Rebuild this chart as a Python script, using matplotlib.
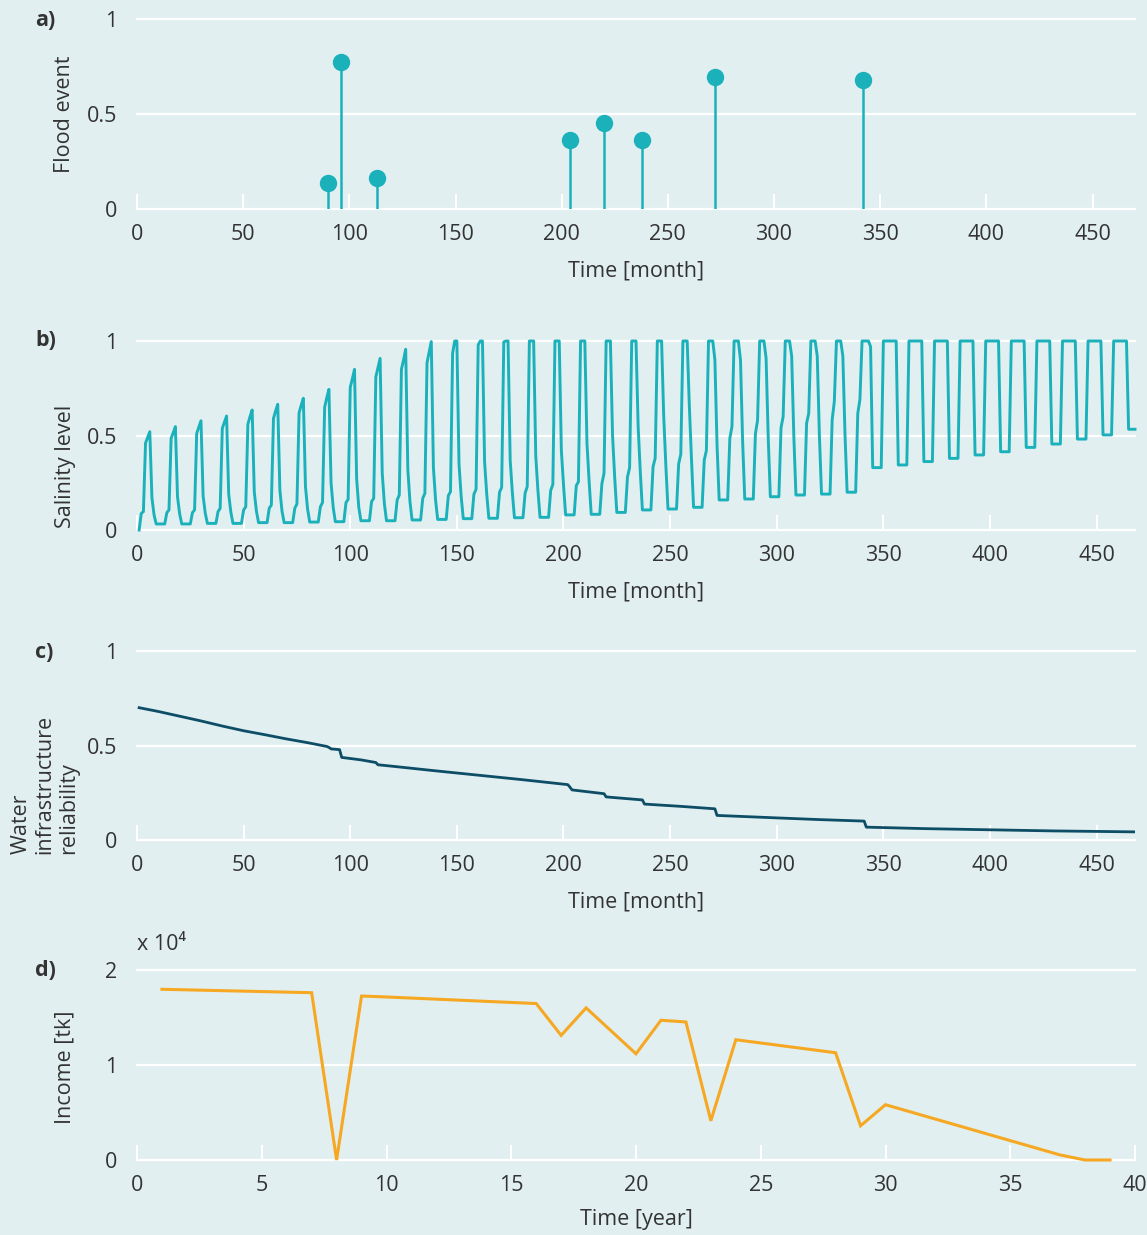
"""
Salinity / flood / income panels
"""

import numpy as np
import matplotlib
matplotlib.use('Agg')
import matplotlib.pyplot as plt

plt.rcParams['font.family'] = ['Open Sans', 'DejaVu Sans']

BG = '#e1eff1'
TEAL = '#1ab1bb'
NAVY = '#0d4d66'
ORANGE = '#f6a823'
TEXT = '#333333'
FS = 15.5

# a) flood events
flood_month = [90, 96, 113, 204, 220, 238, 272, 342]
flood_size = [0.138, 0.775, 0.165, 0.363, 0.453, 0.363, 0.695, 0.679]

# b) salinity level, one row per year (months 1..12 of each year)
salinity_rows = [
    [0.0, 0.088, 0.097, 0.46, 0.49, 0.52, 0.17, 0.08, 0.032, 0.032, 0.032, 0.032],
    [0.032, 0.092, 0.106, 0.485, 0.515, 0.547, 0.175, 0.085, 0.032, 0.032, 0.032, 0.032],
    [0.032, 0.092, 0.106, 0.511, 0.545, 0.578, 0.18, 0.09, 0.035, 0.035, 0.035, 0.035],
    [0.035, 0.097, 0.115, 0.538, 0.57, 0.603, 0.19, 0.095, 0.035, 0.035, 0.035, 0.035],
    [0.035, 0.106, 0.123, 0.56, 0.6, 0.635, 0.2, 0.1, 0.039, 0.039, 0.039, 0.039],
    [0.039, 0.115, 0.132, 0.59, 0.63, 0.665, 0.21, 0.1, 0.039, 0.039, 0.039, 0.039],
    [0.039, 0.115, 0.138, 0.62, 0.66, 0.697, 0.23, 0.11, 0.042, 0.042, 0.042, 0.042],
    [0.042, 0.123, 0.146, 0.65, 0.70, 0.744, 0.25, 0.12, 0.044, 0.044, 0.044, 0.044],
    [0.044, 0.145, 0.162, 0.755, 0.80, 0.85, 0.27, 0.12, 0.049, 0.049, 0.049, 0.049],
    [0.049, 0.15, 0.168, 0.81, 0.86, 0.908, 0.30, 0.14, 0.049, 0.049, 0.049, 0.049],
    [0.049, 0.159, 0.185, 0.85, 0.90, 0.956, 0.32, 0.15, 0.053, 0.053, 0.053, 0.053],
    [0.053, 0.168, 0.194, 0.885, 0.94, 0.997, 0.33, 0.16, 0.056, 0.056, 0.056, 0.056],
    [0.056, 0.182, 0.203, 0.935, 1.0, 1.0, 0.35, 0.18, 0.060, 0.060, 0.060, 0.060],
    [0.060, 0.19, 0.215, 0.98, 1.0, 1.0, 0.36, 0.19, 0.062, 0.062, 0.062, 0.062],
    [0.062, 0.20, 0.225, 0.995, 1.0, 1.0, 0.37, 0.20, 0.065, 0.065, 0.065, 0.065],
    [0.065, 0.195, 0.23, 1.0, 1.0, 1.0, 0.39, 0.21, 0.067, 0.067, 0.067, 0.067],
    [0.067, 0.21, 0.24, 1.0, 1.0, 1.0, 0.42, 0.24, 0.080, 0.080, 0.080, 0.080],
    [0.080, 0.235, 0.255, 1.0, 1.0, 1.0, 0.46, 0.26, 0.083, 0.083, 0.083, 0.083],
    [0.083, 0.245, 0.30, 1.0, 1.0, 1.0, 0.50, 0.28, 0.093, 0.093, 0.093, 0.093],
    [0.093, 0.28, 0.33, 1.0, 1.0, 1.0, 0.55, 0.31, 0.106, 0.106, 0.106, 0.106],
    [0.106, 0.335, 0.38, 1.0, 1.0, 1.0, 0.60, 0.34, 0.111, 0.111, 0.111, 0.111],
    [0.111, 0.35, 0.40, 1.0, 1.0, 1.0, 0.66, 0.38, 0.120, 0.120, 0.120, 0.120],
    [0.120, 0.37, 0.42, 1.0, 1.0, 1.0, 0.90, 0.45, 0.159, 0.159, 0.159, 0.159],
    [0.159, 0.485, 0.547, 1.0, 1.0, 1.0, 0.90, 0.47, 0.164, 0.164, 0.164, 0.164],
    [0.164, 0.51, 0.58, 1.0, 1.0, 1.0, 0.91, 0.49, 0.176, 0.176, 0.176, 0.176],
    [0.176, 0.54, 0.60, 1.0, 1.0, 1.0, 0.92, 0.50, 0.185, 0.185, 0.185, 0.185],
    [0.185, 0.565, 0.617, 1.0, 1.0, 1.0, 0.92, 0.50, 0.190, 0.190, 0.190, 0.190],
    [0.190, 0.585, 0.68, 1.0, 1.0, 1.0, 0.92, 0.51, 0.200, 0.200, 0.200, 0.200],
    [0.200, 0.617, 0.69, 1.0, 1.0, 1.0, 1.0, 0.97, 0.330, 0.330, 0.330, 0.330],
    [0.330, 1.0, 1.0, 1.0, 1.0, 1.0, 1.0, 1.0, 0.344, 0.344, 0.344, 0.344],
    [0.344, 1.0, 1.0, 1.0, 1.0, 1.0, 1.0, 1.0, 0.362, 0.362, 0.362, 0.362],
    [0.362, 1.0, 1.0, 1.0, 1.0, 1.0, 1.0, 1.0, 0.379, 0.379, 0.379, 0.379],
    [0.379, 1.0, 1.0, 1.0, 1.0, 1.0, 1.0, 1.0, 0.397, 0.397, 0.397, 0.397],
    [0.397, 1.0, 1.0, 1.0, 1.0, 1.0, 1.0, 1.0, 0.414, 0.414, 0.414, 0.414],
    [0.414, 1.0, 1.0, 1.0, 1.0, 1.0, 1.0, 1.0, 0.437, 0.437, 0.437, 0.437],
    [0.437, 1.0, 1.0, 1.0, 1.0, 1.0, 1.0, 1.0, 0.455, 0.455, 0.455, 0.455],
    [0.455, 1.0, 1.0, 1.0, 1.0, 1.0, 1.0, 1.0, 0.481, 0.481, 0.481, 0.481],
    [0.481, 1.0, 1.0, 1.0, 1.0, 1.0, 1.0, 1.0, 0.503, 0.503, 0.503, 0.503],
    [0.503, 1.0, 1.0, 1.0, 1.0, 1.0, 1.0, 1.0, 0.533, 0.533, 0.533, 0.533],
]

# c) water infrastructure reliability (points read off the curve)
rel_month = [1, 10, 20, 30, 40, 50, 60, 70, 80, 89, 90, 91, 95, 96, 105, 112, 113,
             120, 140, 160, 180, 202, 203, 204, 219, 220, 237, 238, 255, 271, 272,
             300, 320, 341, 342, 370, 400, 430, 468]
rel_value = [0.70, 0.68, 0.655, 0.63, 0.603, 0.578, 0.557, 0.535, 0.515, 0.495, 0.49,
             0.482, 0.478, 0.437, 0.424, 0.41, 0.398, 0.39, 0.366, 0.343, 0.32, 0.293,
             0.28, 0.265, 0.245, 0.228, 0.212, 0.19, 0.178, 0.165, 0.13, 0.117, 0.108,
             0.10, 0.068, 0.06, 0.054, 0.048, 0.043]

# d) income [tk]
inc_year = [1, 7, 8, 9, 10, 16, 17, 18, 20, 21, 22, 23, 24, 28, 29, 30, 37, 38, 39]
inc_value = [17970, 17610, 0, 17260, 17160, 16470, 13120, 16010, 11180, 14710, 14530,
             4130, 12660, 11290, 3600, 5820, 530, 0, 0]

W, H = 1147, 1235
fig = plt.figure(figsize=(W / 100, H / 100), dpi=100)
fig.patch.set_facecolor(BG)


def px_axes(top, bottom, left=137, right=1135):
    return fig.add_axes([left / W, 1 - bottom / H, (right - left) / W, (bottom - top) / H])


def style_axes(ax, xmax, xticks, yticks, yticklabels):
    ax.set_facecolor(BG)
    for s in ax.spines.values():
        s.set_visible(False)
    ax.set_xlim(0, xmax)
    ax.set_ylim(yticks[0], yticks[-1])
    ax.set_xticks(xticks)
    ax.set_yticks(yticks)
    ax.set_yticklabels(yticklabels)
    ax.yaxis.grid(True, color='white', linewidth=1.6)
    ax.set_axisbelow(True)
    ax.tick_params(axis='x', direction='in', length=11, width=1.5, color='white',
                   pad=11, labelsize=FS, labelcolor=TEXT)
    ax.tick_params(axis='y', length=0, pad=14, labelsize=FS, labelcolor=TEXT)
    for gl in ax.get_ygridlines():
        gl.set_clip_on(False)


month_ticks = [0, 50, 100, 150, 200, 250, 300, 350, 400, 450]

# a)
ax1 = px_axes(19, 209)
style_axes(ax1, 470, month_ticks, [0, 0.5, 1], ['0', '0.5', '1'])
ax1.vlines(flood_month, 0, flood_size, color=TEAL, linewidth=1.8, zorder=3)
ax1.plot(flood_month, flood_size, 'o', color=TEAL, markersize=11.5, zorder=4, clip_on=False)
ax1.set_xlabel('Time [month]', fontsize=FS, color=TEXT, labelpad=11)

# b)
sal = np.array(salinity_rows).ravel()
months = np.arange(1, len(sal) + 1)
ax2 = px_axes(341, 530)
style_axes(ax2, 468, month_ticks, [0, 0.5, 1], ['0', '0.5', '1'])
ax2.plot(months, sal, color=TEAL, linewidth=2.1, clip_on=False, zorder=3)
ax2.set_xlabel('Time [month]', fontsize=FS, color=TEXT, labelpad=11)

# c)
ax3 = px_axes(651, 840)
style_axes(ax3, 468, month_ticks, [0, 0.5, 1], ['0', '0.5', '1'])
ax3.plot(rel_month, rel_value, color=NAVY, linewidth=2.0, zorder=3)
ax3.set_xlabel('Time [month]', fontsize=FS, color=TEXT, labelpad=11)

# d)
ax4 = px_axes(970, 1160)
style_axes(ax4, 40, [0, 5, 10, 15, 20, 25, 30, 35, 40], [0, 1, 2], ['0', '1', '2'])
ax4.plot(inc_year, np.array(inc_value) / 1e4, color=ORANGE, linewidth=2.2,
         solid_joinstyle='miter', clip_on=False, zorder=3)
ax4.set_xlabel('Time [year]', fontsize=FS, color=TEXT, labelpad=9)
fig.text(137 / W, 1 - 945 / H, 'x 10\u2074', fontsize=FS, color=TEXT,
         ha='left', va='center')

# y labels
fig.text(65 / W, 1 - 114 / H, 'Flood event', rotation=90, fontsize=FS, color=TEXT,
         ha='center', va='center')
fig.text(65 / W, 1 - 466 / H, 'Salinity level', rotation=90, fontsize=FS, color=TEXT,
         ha='center', va='center')
fig.text(45 / W, 1 - 784 / H, 'Water\ninfrastructure\nreliability', rotation=90,
         fontsize=FS, color=TEXT, ha='center', va='center', multialignment='left',
         linespacing=1.15)
fig.text(65 / W, 1 - 1067 / H, 'Income [tk]', rotation=90, fontsize=FS, color=TEXT,
         ha='center', va='center')

# panel letters
for lab, y in [('a)', 20), ('b)', 341), ('c)', 652), ('d)', 971)]:
    fig.text(35 / W, 1 - y / H, lab, fontsize=FS, fontweight='bold', color=TEXT,
             ha='left', va='center')

fig.savefig('out.png', dpi=100, facecolor=BG)
